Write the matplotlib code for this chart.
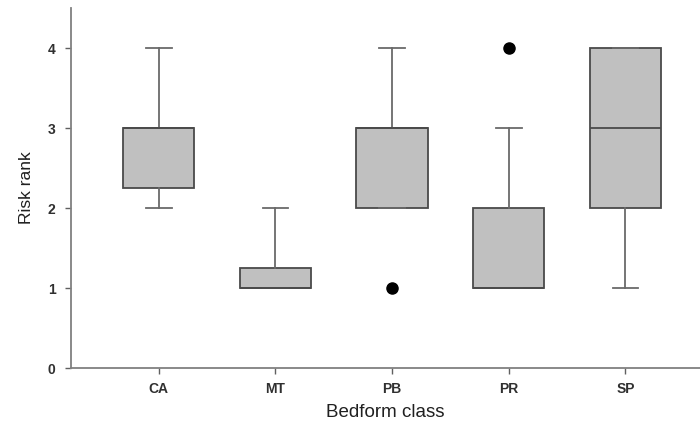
import matplotlib.pyplot as plt

classes = ["CA", "MT", "PB", "PR", "SP"]
whislo = [2, 1, 2, 1, 1]
q1 = [2.25, 1, 2, 1, 2]
med = [3, 1, 3, 1, 3]
q3 = [3, 1.25, 3, 2, 4]
whishi = [4, 2, 4, 3, 4]
outliers = [[], [], [1], [4], []]

stats = []
for i, name in enumerate(classes):
    stats.append({"label": name, "whislo": whislo[i], "q1": q1[i], "med": med[i],
                  "q3": q3[i], "whishi": whishi[i], "fliers": outliers[i]})

plt.rcParams["font.family"] = ["Liberation Sans", "DejaVu Sans"]
fig = plt.figure(figsize=(7, 4.23), dpi=100)
ax = fig.add_axes([0.101, 0.13, 0.899, 0.851])

edge = "#4a4a4a"
ax.bxp(stats, positions=range(len(classes)), widths=0.61, patch_artist=True,
       boxprops=dict(facecolor="#c0c0c0", edgecolor=edge, linewidth=1.3),
       medianprops=dict(color=edge, linewidth=1.3),
       whiskerprops=dict(color="#6a6a6a", linewidth=1.3),
       capprops=dict(color="#6a6a6a", linewidth=1.3),
       flierprops=dict(marker="o", markerfacecolor="black", markeredgecolor="black",
                       markersize=8),
       capwidths=0.22)

ax.set_xlim(-0.755, 4.64)
ax.set_ylim(0, 4.5)
ax.set_yticks([0, 1, 2, 3, 4])
ax.set_xticks(range(len(classes)))
ax.set_xticklabels(classes)

for s in ["top", "right"]:
    ax.spines[s].set_visible(False)
for s in ["left", "bottom"]:
    ax.spines[s].set_color("#808080")
    ax.spines[s].set_linewidth(1.3)
ax.tick_params(direction="out", length=4, width=1, color="#606060",
               labelsize=10, labelcolor="#303030")
ax.tick_params(axis="y", pad=7)
ax.tick_params(axis="x", pad=6)
for lab in ax.get_yticklabels() + ax.get_xticklabels():
    lab.set_fontweight("bold")

ax.set_xlabel("Bedform class", fontsize=13.5, color="#202020", labelpad=6)
ax.set_ylabel("Risk rank", fontsize=12.5, color="#202020", labelpad=10)

fig.savefig("out.png", dpi=100)
